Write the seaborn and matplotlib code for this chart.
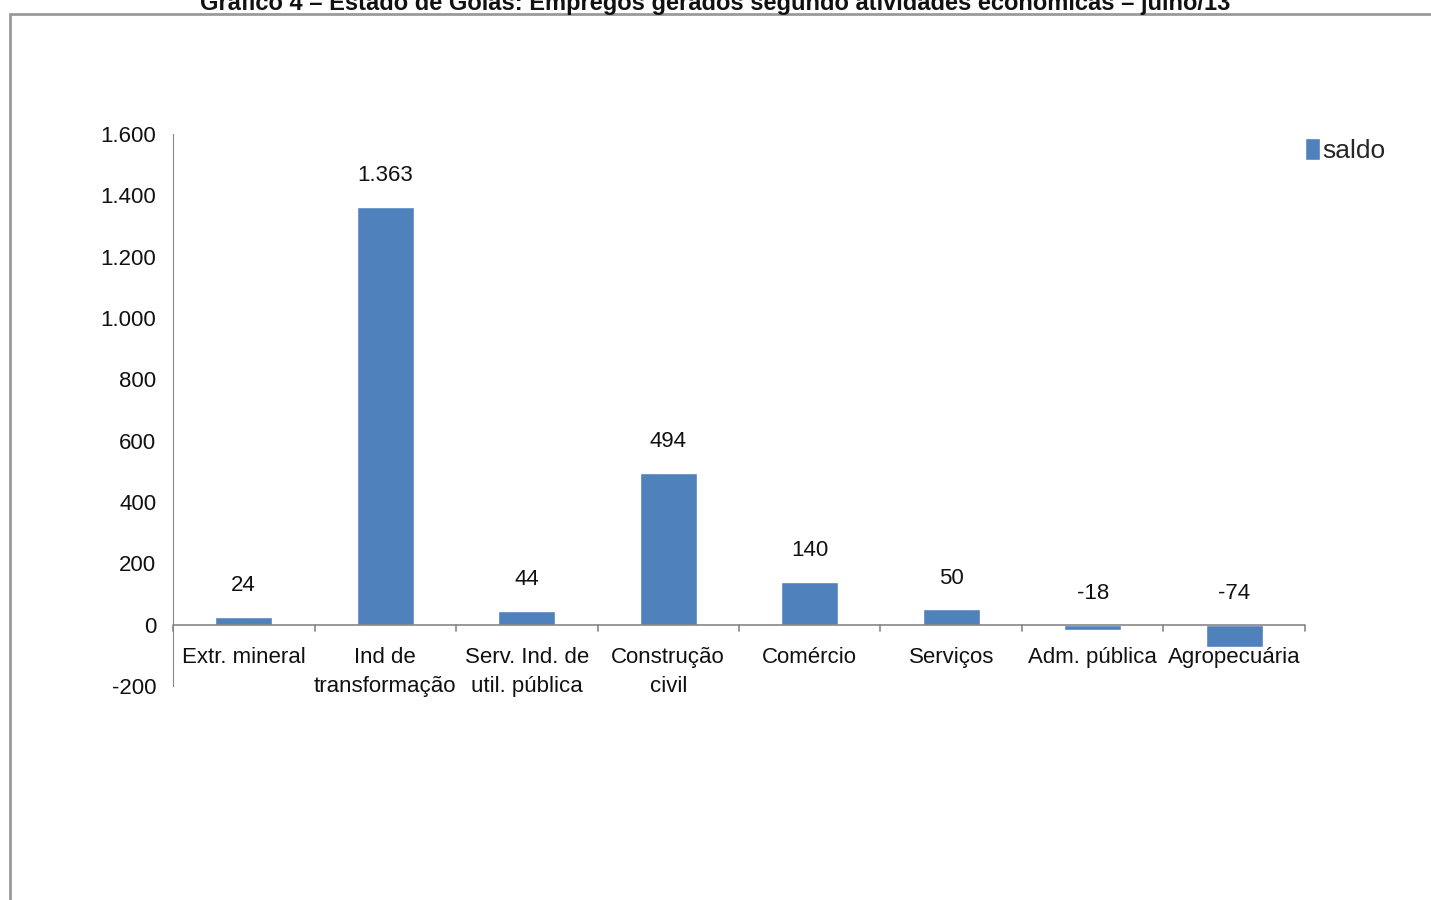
import matplotlib.pyplot as plt
import matplotlib.lines as mlines
from matplotlib.ticker import FuncFormatter, FixedLocator
import seaborn as sns
import pandas as pd

categorias = ['Extr. mineral', 'Ind de\ntransformação', 'Serv. Ind. de\nutil. pública',
              'Construção\ncivil', 'Comércio', 'Serviços', 'Adm. pública', 'Agropecuária']
saldo = [24, 1363, 44, 494, 140, 50, -18, -74]
yticks = [-200, 0, 200, 400, 600, 800, 1000, 1200, 1400, 1600]
titulo = 'Gráfico 4 – Estado de Goiás: Empregos gerados segundo atividades econômicas – julho/13'

sns.set_style('white')
plt.rcParams['font.family'] = ['Liberation Sans', 'DejaVu Sans']


def milhar(v):
    return f'{int(v):,}'.replace(',', '.')


df = pd.DataFrame({'atividade': categorias, 'saldo': saldo})
azul = '#4F81BD'
cinza = '#868686'

fig = plt.figure(figsize=(14.31, 9), dpi=100)
ax = fig.add_axes([173 / 1431, 1 - 686 / 900, (1305 - 173) / 1431, (686 - 134) / 900])

sns.barplot(data=df, x='atividade', y='saldo', color=azul, width=0.4,
            saturation=1, ax=ax, label='saldo')

ax.set_ylim(-200, 1600)
ax.set_xlim(-0.5, len(categorias) - 0.5)
ax.yaxis.set_major_locator(FixedLocator(yticks))
ax.yaxis.set_major_formatter(FuncFormatter(lambda v, p: milhar(v)))
ax.tick_params(axis='y', labelsize=16, length=6, width=1, color=cinza, pad=6,
               labelcolor='#111111')
ax.set_xlabel('')
ax.set_ylabel('')

for s in ['top', 'right', 'bottom']:
    ax.spines[s].set_visible(False)
ax.spines['left'].set_color(cinza)
ax.axhline(0, color=cinza, linewidth=1.2, zorder=3)

# x ticks: boundaries along the zero line, labels below
ax.set_xticks(range(len(categorias)))
ax.set_xticklabels([])
ax.tick_params(axis='x', length=0)
for i in range(len(categorias) + 1):
    ax.plot([i - 0.5, i - 0.5], [0, -20], color=cinza, linewidth=1.2, clip_on=False)
for i, c in enumerate(categorias):
    ax.annotate(c, (i, 0), xytext=(0, -16), textcoords='offset points',
                ha='center', va='top', fontsize=16, linespacing=1.5, color='#111111')

# value labels
for i, v in enumerate(saldo):
    ax.annotate(milhar(v), (i, max(v, 0)), xytext=(0, 15),
                textcoords='offset points', ha='center', va='bottom', fontsize=16,
                color='#111111')

ax.legend(loc='upper left', bbox_to_anchor=(0.991, 1.012), frameon=False,
          fontsize=19, handlelength=0.55, handleheight=0.9, handletextpad=0.1,
          borderaxespad=0)

# outer frame and cut title
fig.add_artist(mlines.Line2D([10 / 1431, 10 / 1431], [0, 1 - 14 / 900],
                             color='#9a9a9a', linewidth=2))
fig.add_artist(mlines.Line2D([10 / 1431, 1], [1 - 14 / 900, 1 - 14 / 900],
                             color='#9a9a9a', linewidth=2))
fig.text(0.5, 1 - 3 / 900, titulo, ha='center', va='center', fontsize=17,
         fontweight='bold', color='#111111')

fig.savefig('out.png', dpi=100)
